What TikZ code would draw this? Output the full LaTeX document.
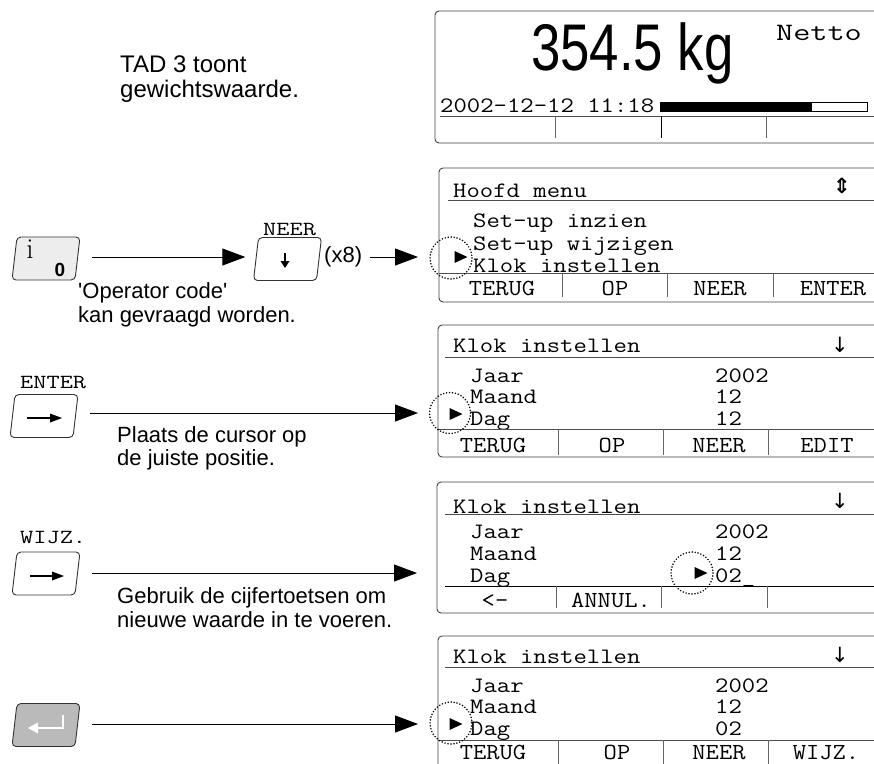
\documentclass[tikz,border=0pt]{standalone}
\usepackage{fontspec}
\usepackage{graphicx}
\usetikzlibrary{arrows.meta}
\newfontfamily\arial{Liberation Sans}
\newfontfamily\dejavu{DejaVu Sans}
\newcommand\mtx[1]{\scalebox{1.18}[1]{#1}}
\newcommand\mlab[1]{\scalebox{1.12}[1]{#1}}
\newcommand\mkey[1]{\scalebox{1.28}[1]{#1}}
\begin{document}
\begin{tikzpicture}[x=1pt,y=-1pt,
  lcd/.style={draw=black!75, line width=0.9pt, rounded corners=4pt},
  rulel/.style={draw=black!70, line width=0.9pt},
  tick/.style={draw=black!60, line width=1pt},
  mono/.style={font=\fontsize{22}{22}\selectfont\ttfamily, inner sep=0pt, anchor=base west},
  softkey/.style={font=\fontsize{23}{23}\selectfont\ttfamily, inner sep=0pt, anchor=base},
  keylab/.style={font=\fontsize{20}{20}\selectfont\ttfamily, inner sep=0pt, anchor=base west},
  note/.style={font=\arial\fontsize{22}{22}\selectfont, inner sep=0pt, anchor=base west},
  sym/.style={font=\dejavu\fontsize{21}{21}\selectfont, inner sep=0pt, anchor=base},
  conn/.style={draw=black, line width=0.9pt, -{Triangle[length=23pt,width=17pt]}},
  cursring/.style={draw=black, line width=1.7pt, dash pattern=on 0pt off 3pt, line cap=round},
  keynode/.style={draw=none, minimum width=68pt, minimum height=43pt, inner sep=0pt},
  keyarrow/.style={draw=black, line width=2.4pt},
  keyface/.pic={\path[pic actions, rounded corners=4pt] (-29,-21.5) -- (34,-21.5) -- (29,21.5) -- (-34,21.5) -- cycle;},
  curs/.pic={\fill[black] (-6.5,-6) -- (6.5,0) -- (-6.5,6) -- cycle;}
]
\useasboundingbox (0,0) rectangle (874,763);

% ---------- left notes ----------
\node[note, font=\arial\fontsize{24}{24}\selectfont] (n1) at (120,72) {TAD 3 toont};
\node[note, font=\arial\fontsize{24}{24}\selectfont] (n2) at (120,97) {gewichtswaarde.};
\node[note] (n3) at (78,298) {'Operator code'};
\node[note] (n4) at (78,322) {kan gevraagd worden.};
\node[note] (n5) at (117,442) {Plaats de cursor op};
\node[note] (n6) at (117,465) {de juiste positie.};
\node[note] (n7) at (117,603) {Gebruik de cijfertoetsen om};
\node[note] (n8) at (117,627) {nieuwe waarde in te voeren.};

% ---------- display 1 ----------
\draw[lcd] (435,11) rectangle (890,143);
\node[font=\arial\fontsize{66}{66}\selectfont, anchor=base west, inner sep=0pt] (w) at (531,70) {\scalebox{0.8}[1]{354.5 kg}};
\node[anchor=base west, font=\fontsize{25}{25}\selectfont\ttfamily, inner sep=0pt] (net) at (776,40) {\scalebox{1.33}[1]{Netto}};
\node[mono] (dt) at (440,112) {\mtx{2002-12-12 11:18}};
\draw[black, line width=0.9pt] (660,102) rectangle (867,111);
\fill[black] (660,102) rectangle (812,111);
\draw[rulel] (440,116) -- (880,116);
\draw[tick] (555,116) -- (555,138);
\draw[black, line width=1pt] (661,116) -- (661,138);
\draw[tick] (766,116) -- (766,138);

% ---------- display 2 ----------
\draw[lcd] (439,168) rectangle (890,302);
\node[mono] at (453,197) {\mtx{Hoofd menu}};
\node[sym, font=\dejavu\bfseries\fontsize{21}{21}\selectfont] at (842,193) {⇕};
\draw[rulel] (448,200) -- (880,200);
\node[mono] at (473,227) {\mtx{Set-up inzien}};
\node[mono] at (473,250) {\mtx{Set-up wijzigen}};
\node[mono] at (473,272) {\mtx{Klok instellen}};
\draw[rulel] (439,273) -- (880,273);
\foreach \x in {562,667,773} \draw[tick] (\x,273) -- (\x,297);
\node[softkey] at (502,295) {\mlab{TERUG}};
\node[softkey] at (615,295) {\mlab{OP}};
\node[softkey] at (720,295) {\mlab{NEER}};
\node[softkey] at (833,295) {\mlab{ENTER}};
\draw[cursring] (451,258) circle (21);
\pic at (461,257) {curs};

% ---------- display 3 ----------
\draw[lcd] (438,325) rectangle (890,457);
\node[mono] at (453,352) {\mtx{Klok instellen}};
\node[sym] at (840,352) {↓};
\draw[rulel] (445,357) -- (880,357);
\node[mono] at (470,382) {\mtx{Jaar}};
\node[mono] at (470,403) {\mtx{Maand}};
\node[mono] at (470,425) {\mtx{Dag}};
\node[mono] at (715,382) {\mtx{2002}};
\node[mono] at (715,403) {\mtx{12}};
\node[mono] at (715,425) {\mtx{12}};
\draw[rulel] (438,429) -- (880,429);
\foreach \x in {558,663,768} \draw[tick] (\x,429) -- (\x,455);
\node[softkey] at (493,452) {\mlab{TERUG}};
\node[softkey] at (612,452) {\mlab{OP}};
\node[softkey] at (719,452) {\mlab{NEER}};
\node[softkey] at (827,452) {\mlab{EDIT}};
\draw[cursring] (450,413) circle (20.5);
\pic at (456,414) {curs};

% ---------- display 4 ----------
\draw[lcd] (437,482) rectangle (890,613);
\node[mono] at (453,513) {\mtx{Klok instellen}};
\node[sym] at (840,508) {↓};
\draw[rulel] (445,514) -- (880,514);
\node[mono] at (470,538) {\mtx{Jaar}};
\node[mono] at (470,560) {\mtx{Maand}};
\node[mono] at (470,582) {\mtx{Dag}};
\node[mono] at (715,538) {\mtx{2002}};
\node[mono] at (715,560) {\mtx{12}};
\node[mono] at (715,582) {\mtx{02\_}};
\draw[black, line width=0.9pt] (445,586) -- (880,586);
\foreach \x in {556,661,767} \draw[tick] (\x,586) -- (\x,608);
\node[softkey] at (495,607) {\mlab{<-}};
\node[softkey] at (611,607) {\mlab{ANNUL.}};
\draw[cursring] (692,573) circle (21);
\pic at (701,573) {curs};

% ---------- display 5 ----------
\draw[lcd] (438,636) rectangle (890,800);
\node[mono] at (453,663) {\mtx{Klok instellen}};
\node[sym] at (840,662) {↓};
\draw[rulel] (445,667) -- (880,667);
\node[mono] at (470,692) {\mtx{Jaar}};
\node[mono] at (470,713) {\mtx{Maand}};
\node[mono] at (470,735) {\mtx{Dag}};
\node[mono] at (715,692) {\mtx{2002}};
\node[mono] at (715,713) {\mtx{12}};
\node[mono] at (715,735) {\mtx{02}};
\draw[rulel] (438,740) -- (880,740);
\foreach \x in {558,663,768} \draw[tick] (\x,740) -- (\x,770);
\node[softkey] at (493,759) {\mlab{TERUG}};
\node[softkey] at (617,759) {\mlab{OP}};
\node[softkey] at (719,759) {\mlab{NEER}};
\node[softkey] at (826,759) {\mlab{WIJZ.}};
\draw[cursring] (451,723) circle (21);
\pic at (456,724) {curs};

% ---------- keys ----------
% key i / 0
\pic[draw=black!80, fill=black!7, line width=0.9pt] at (46,258.5) {keyface};
\node[keynode] (k1) at (46,257) {};
\node[font=\fontsize{29}{29}\selectfont, anchor=base, inner sep=0pt] at (30,258) {i};
\node[font=\arial\bfseries\fontsize{19}{19}\selectfont, anchor=base, inner sep=0pt] at (60,276) {0};

% key NEER
\pic[draw=black!80, fill=white, line width=0.9pt] at (287.5,259) {keyface};
\node[keynode] (k2) at (287.5,257) {};
\node[keylab] at (263,235) {\mkey{NEER}};
\draw[line width=2pt] (285,253) -- (285,262);
\fill (280.5,261) -- (289.5,261) -- (285,268) -- cycle;
\node[font=\arial\fontsize{22}{22}\selectfont, anchor=west, inner sep=0pt] (x8) at (324,257) {(x8)};

% key ENTER
\pic[draw=black!80, fill=white, line width=0.9pt] at (44,416) {keyface};
\node[keynode] (k3) at (44,413) {};
\node[keylab] at (20,388) {\mkey{ENTER}};
\draw[keyarrow] (27,418) -- (52,418);
\fill (50,413.5) -- (62,418) -- (50,422.5) -- cycle;

% key WIJZ.
\pic[draw=black!80, fill=white, line width=0.9pt] at (46,573.5) {keyface};
\node[keynode] (k4) at (46,573) {};
\node[keylab] at (20,543) {\mkey{WIJZ.}};
\draw[keyarrow] (30,576) -- (54,576);
\fill (52,571.5) -- (64,576) -- (52,580.5) -- cycle;

% return key (gray)
\pic[draw=black!80, fill=black!27, line width=0.9pt] at (46,725) {keyface};
\node[keynode] (k5) at (46,724) {};
\draw[white, line width=2.8pt] (63,715) -- (63,728) -- (36,728);
\fill[white] (28,728) -- (38,722.5) -- (38,733.5) -- cycle;

% ---------- targets and connectors ----------
\coordinate (t1) at (418,257);
\coordinate (t2) at (418,413);
\coordinate (t3) at (417,573);
\coordinate (t4) at (418,724);
\draw[conn] ([xshift=12pt]k1.east) -- ([xshift=-8pt]k2.west);
\draw[conn] ([xshift=8pt]x8.east) -- (t1);
\draw[conn] ([xshift=12pt]k3.east) -- (t2);
\draw[conn] ([xshift=12pt]k4.east) -- (t3);
\draw[conn] ([xshift=12pt]k5.east) -- (t4);
\end{tikzpicture}
\end{document}
